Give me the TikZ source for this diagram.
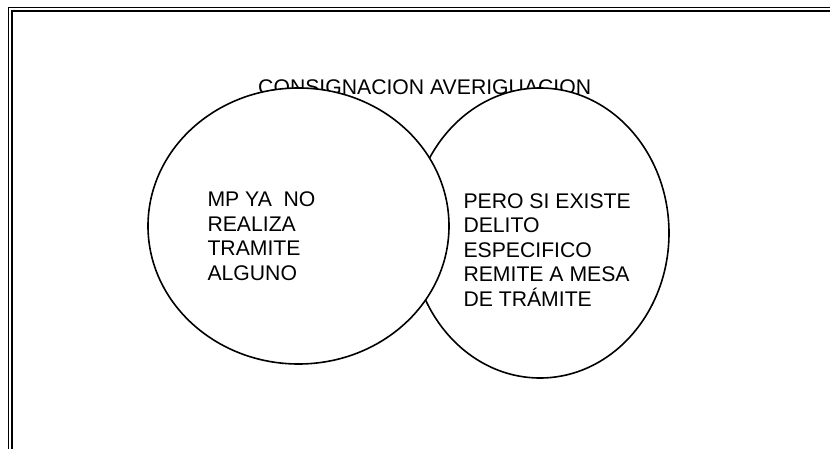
\documentclass[tikz,border=0pt]{standalone}
\usepackage{fontspec}
\setmainfont{Liberation Sans}
\usetikzlibrary{shapes.geometric}
\begin{document}
\begin{tikzpicture}[x=1pt,y=-1pt,
  frameline/.style={line width=1.8pt},
  bubble/.style={draw,ellipse,line width=1.6pt,fill=white,inner sep=0pt},
  lbl/.style={font=\fontsize{21.2}{24.5}\selectfont,inner sep=0pt,align=left}]
\useasboundingbox (0,0) rectangle (830,449);
% frame
\draw[frameline] (8.5,449) -- (8.5,7.5) -- (830,7.5);
\draw[frameline] (12,449) -- (12,10.8) -- (830,10.8);
% title
\node[lbl,anchor=base west] (title) at (258,95) {CONSIGNACION AVERIGUACION};
% ellipses
\node[bubble,minimum width=258pt,minimum height=290pt] (right) at (540,233) {};
\node[bubble,minimum width=301pt,minimum height=276pt] (left) at (298.5,226) {};
% texts
\node[lbl,anchor=north west] (ltext) at (207.3,191.5) {MP YA\ \ NO\\REALIZA\\TRAMITE\\ALGUNO};
\node[lbl,anchor=north west] (rtext) at (463.3,193) {PERO SI EXISTE\\DELITO\\ESPECIFICO\\REMITE A MESA\\DE TRÁMITE};
\end{tikzpicture}
\end{document}
